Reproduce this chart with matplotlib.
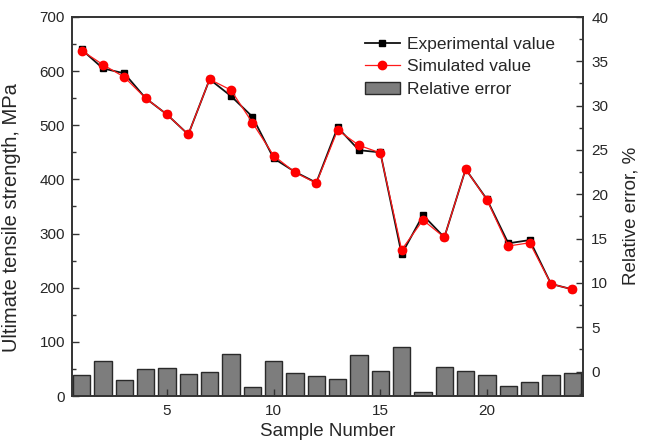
import matplotlib
matplotlib.use("Agg")
import matplotlib.pyplot as plt
from matplotlib.ticker import MultipleLocator
from matplotlib.patches import Patch
from matplotlib.lines import Line2D

plt.rcParams['font.family'] = ['Liberation Sans', 'DejaVu Sans']

samples = list(range(1, 25))
experimental = [640, 605, 596, 550, 520, 483, 585, 554, 516, 439, 414, 394,
                496, 454, 450, 262, 334, 293, 419, 363, 282, 288, 207, 197]
simulated = [638, 612, 589, 550, 520, 483, 585, 565, 505, 444, 413, 393,
             491, 463, 449, 270, 325, 293, 419, 362, 277, 283, 207, 197]
relative_error = [-0.39, 1.18, -0.92, 0.28, 0.36, -0.28, -0.02, 1.97, -1.71,
                  1.15, -0.20, -0.51, -0.84, 1.86, 0.09, 2.79, -2.34, 0.54,
                  0.09, -0.43, -1.60, -1.15, -0.43, -0.14]

err_min, err_max = -2.76, 40

fig = plt.figure(figsize=(6.46, 4.43), dpi=100)
ax = fig.add_axes([72 / 646, 47 / 443, 511 / 646, 379 / 443])
ax2 = ax.twinx()

text_color = '#262626'
bar_face = '#7d7d7d'
bar_edge = '#2a2a2a'

# relative error bars rise from the bottom of the right-hand scale
ax2.bar(samples, [v - err_min for v in relative_error], bottom=err_min,
        width=0.82, color=bar_face, edgecolor=bar_edge, linewidth=1.0,
        zorder=1)

# strength curves on the left-hand scale, kept above the bars
ax.set_zorder(ax2.get_zorder() + 1)
ax.patch.set_visible(False)
ax.plot(samples, experimental, color='#111111', lw=1.3, marker='s', ms=5,
        mfc='black', mec='black', zorder=3)
ax.plot(samples, simulated, color='#ff1a1a', lw=0.9, marker='o', ms=6,
        mfc='red', mec='red', zorder=4)

ax.set_xlim(0.55, 24.5)
ax.set_ylim(0, 700)
ax2.set_ylim(err_min, err_max)

ax.yaxis.set_major_locator(MultipleLocator(100))
ax.yaxis.set_minor_locator(MultipleLocator(50))
ax2.yaxis.set_major_locator(MultipleLocator(5))
ax2.yaxis.set_minor_locator(MultipleLocator(2.5))
ax.set_xticks([5, 10, 15, 20])

ax.tick_params(axis='both', which='both', direction='in', top=False,
               right=False, colors='#333333', labelcolor=text_color,
               labelsize=11, width=1.0)
ax.tick_params(axis='both', which='major', length=5)
ax.tick_params(axis='y', which='minor', length=3)
ax.tick_params(axis='x', which='major', pad=6)
ax.tick_params(axis='y', which='major', pad=5)
ax2.tick_params(axis='y', which='both', direction='in', colors='#333333',
                labelcolor=text_color, labelsize=11, width=1.0, pad=6)
ax2.tick_params(axis='y', which='major', length=5)
ax2.tick_params(axis='y', which='minor', length=3)

for a in (ax, ax2):
    for s in a.spines.values():
        s.set_linewidth(1.2)
        s.set_color('#333333')

ax.set_xlabel('Sample Number', fontsize=13.5, color=text_color, labelpad=3)
ax.set_ylabel('Ultimate tensile strength, MPa', fontsize=14.5,
              color=text_color)
ax.yaxis.set_label_coords(-0.1, 0.47)
ax2.set_ylabel('Relative error, %', fontsize=13.5, color=text_color)
ax2.yaxis.set_label_coords(1.077, 0.475)

handles = [
    Line2D([], [], color='#111111', lw=1.3, marker='s', ms=5, mfc='black',
           mec='black'),
    Line2D([], [], color='#ff1a1a', lw=0.9, marker='o', ms=6, mfc='red',
           mec='red'),
    Patch(facecolor=bar_face, edgecolor=bar_edge, linewidth=1.0),
]
labels = ['Experimental value', 'Simulated value', 'Relative error']
ax.legend(handles, labels, loc='upper right', bbox_to_anchor=(0.965, 0.975),
          frameon=False, fontsize=12.5, handlelength=2.0, handletextpad=0.4,
          labelspacing=0.42, borderaxespad=0.2, labelcolor=text_color)

fig.savefig('out.png', dpi=100)
